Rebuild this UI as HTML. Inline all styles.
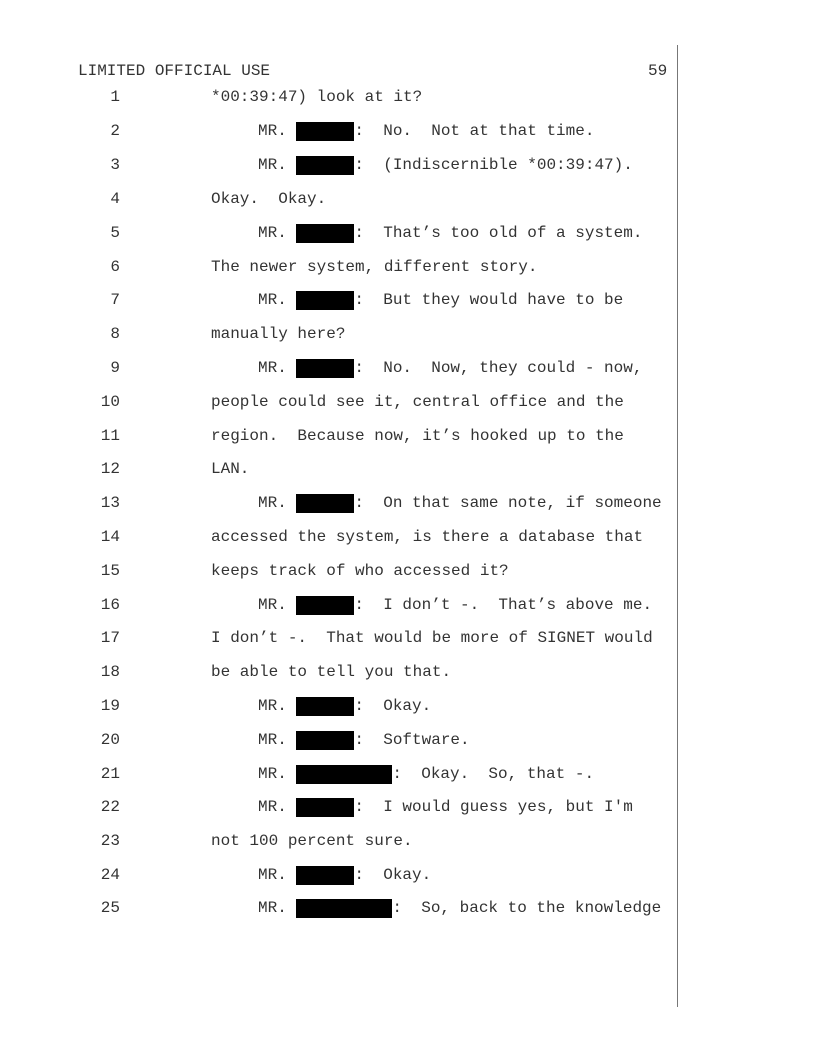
<!DOCTYPE html>
<html><head><meta charset="utf-8"><style>
body{margin:0;width:816px;height:1056px;background:#fff;position:relative;font-family:"Liberation Mono",monospace;font-size:16px;color:#333;}
.l{position:absolute;white-space:pre;line-height:18px;height:18px;}
.n{position:absolute;width:40px;left:80px;text-align:right;line-height:18px;}
.b{display:inline-block;background:#000;height:18px;vertical-align:top;position:relative;top:0px;box-shadow:0 1px 0 #000;}
.vl{position:absolute;left:677px;top:45px;width:1px;height:962px;background:#777;}
</style></head><body>
<div class="l" style="left:78px;top:62px">LIMITED OFFICIAL USE</div>
<div class="l" style="left:648px;top:62px">59</div>
<div class="vl"></div>
<div class="n" style="top:88px">1</div><div class="l" style="left:211px;top:88px">*00:39:47) look at it?</div>
<div class="n" style="top:122px">2</div><div class="l" style="left:258px;top:122px">MR. <span class="b" style="width:58px"></span>:  No.  Not at that time.</div>
<div class="n" style="top:156px">3</div><div class="l" style="left:258px;top:156px">MR. <span class="b" style="width:58px"></span>:  (Indiscernible *00:39:47).</div>
<div class="n" style="top:190px">4</div><div class="l" style="left:211px;top:190px">Okay.  Okay.</div>
<div class="n" style="top:224px">5</div><div class="l" style="left:258px;top:224px">MR. <span class="b" style="width:58px"></span>:  That’s too old of a system.</div>
<div class="n" style="top:258px">6</div><div class="l" style="left:211px;top:258px">The newer system, different story.</div>
<div class="n" style="top:291px">7</div><div class="l" style="left:258px;top:291px">MR. <span class="b" style="width:58px"></span>:  But they would have to be</div>
<div class="n" style="top:325px">8</div><div class="l" style="left:211px;top:325px">manually here?</div>
<div class="n" style="top:359px">9</div><div class="l" style="left:258px;top:359px">MR. <span class="b" style="width:58px"></span>:  No.  Now, they could - now,</div>
<div class="n" style="top:393px">10</div><div class="l" style="left:211px;top:393px">people could see it, central office and the</div>
<div class="n" style="top:427px">11</div><div class="l" style="left:211px;top:427px">region.  Because now, it’s hooked up to the</div>
<div class="n" style="top:460px">12</div><div class="l" style="left:211px;top:460px">LAN.</div>
<div class="n" style="top:494px">13</div><div class="l" style="left:258px;top:494px">MR. <span class="b" style="width:58px"></span>:  On that same note, if someone</div>
<div class="n" style="top:528px">14</div><div class="l" style="left:211px;top:528px">accessed the system, is there a database that</div>
<div class="n" style="top:562px">15</div><div class="l" style="left:211px;top:562px">keeps track of who accessed it?</div>
<div class="n" style="top:596px">16</div><div class="l" style="left:258px;top:596px">MR. <span class="b" style="width:58px"></span>:  I don’t -.  That’s above me.</div>
<div class="n" style="top:629px">17</div><div class="l" style="left:211px;top:629px">I don’t -.  That would be more of SIGNET would</div>
<div class="n" style="top:663px">18</div><div class="l" style="left:211px;top:663px">be able to tell you that.</div>
<div class="n" style="top:697px">19</div><div class="l" style="left:258px;top:697px">MR. <span class="b" style="width:58px"></span>:  Okay.</div>
<div class="n" style="top:731px">20</div><div class="l" style="left:258px;top:731px">MR. <span class="b" style="width:58px"></span>:  Software.</div>
<div class="n" style="top:765px">21</div><div class="l" style="left:258px;top:765px">MR. <span class="b" style="width:96px"></span>:  Okay.  So, that -.</div>
<div class="n" style="top:798px">22</div><div class="l" style="left:258px;top:798px">MR. <span class="b" style="width:58px"></span>:  I would guess yes, but I'm</div>
<div class="n" style="top:832px">23</div><div class="l" style="left:211px;top:832px">not 100 percent sure.</div>
<div class="n" style="top:866px">24</div><div class="l" style="left:258px;top:866px">MR. <span class="b" style="width:58px"></span>:  Okay.</div>
<div class="n" style="top:899px">25</div><div class="l" style="left:258px;top:899px">MR. <span class="b" style="width:96px"></span>:  So, back to the knowledge</div>
</body></html>
